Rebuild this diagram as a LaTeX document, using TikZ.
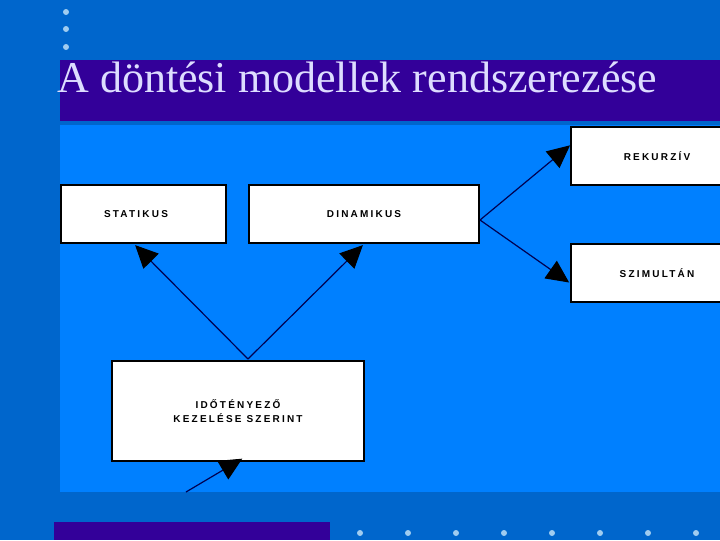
\documentclass[tikz,border=0pt]{standalone}
\usepackage{fontspec}
\setmainfont{Liberation Serif}
\newfontfamily\boxfont[LetterSpace=22]{Liberation Sans Bold}
\usetikzlibrary{arrows.meta}
\definecolor{bgblue}{HTML}{0066CC}
\definecolor{panelblue}{HTML}{0080FF}
\definecolor{titlebar}{HTML}{330099}
\definecolor{titletext}{HTML}{DDDDFF}
\definecolor{dotcol}{HTML}{A0CCF0}
\definecolor{linecol}{HTML}{000050}
\tikzset{
  box/.style={draw=black, line width=1.5pt, fill=white, inner sep=0pt, font=\boxfont\fontsize{7.5}{10}\selectfont, align=center},
  conn/.style={draw=linecol, line width=0.9pt, -{Triangle[length=17pt,width=16pt,fill=black,color=black]}, shorten >=-2pt},
  dot/.style={circle, fill=dotcol, inner sep=0pt, minimum size=4.5pt}
}
\begin{document}
\begin{tikzpicture}[x=0.75pt,y=-0.75pt]
\fill[bgblue] (0,0) rectangle (720,540);
\useasboundingbox (0,0) rectangle (720,540);
% top dots
\node[dot] (d1) at (66,12) {};
\node[dot] (d2) at (66,29) {};
\node[dot] (d3) at (66,47) {};
% title bar
\fill[titlebar] (60,60) rectangle (720,121);
\node[anchor=base west, inner sep=0pt, text=titletext, font=\fontsize{33}{38}\selectfont] (title) at (57,92) {A döntési modellek rendszerezése};
% panel
\fill[panelblue] (60,125) rectangle (720,492);
% bottom bar
\fill[titlebar] (54,522) rectangle (330,540);
\foreach \i in {0,...,7} {\node[dot] (b\i) at (360+48*\i,533) {};}
% boxes
\node[box, minimum width=165*0.75pt, minimum height=58*0.75pt, anchor=north west] (stat) at (60,184) {STATIKUS\hspace*{1.5em}};
\node[box, minimum width=230*0.75pt, minimum height=58*0.75pt, anchor=north west] (din) at (248,184) {DINAMIKUS};
\node[box, minimum width=152*0.75pt, minimum height=58*0.75pt, anchor=north west] (rek) at (570,126) {\hspace*{2em}REKURZÍV};
\node[box, minimum width=152*0.75pt, minimum height=58*0.75pt, anchor=north west] (szim) at (570,243) {\hspace*{2em}SZIMULTÁN};
\node[box, minimum width=252*0.75pt, minimum height=100*0.75pt, anchor=north west] (ido) at (111,360) {IDŐTÉNYEZŐ\\KEZELÉSE SZERINT};
% connectors
\coordinate (src) at (248,359);
\coordinate (stattip) at (137,247);
\coordinate (dintip) at (361,247);
\coordinate (dsrc) at (480,220);
\coordinate (rektip) at (568,147);
\coordinate (szimtip) at (567,281);
\coordinate (low) at (186,492);
\coordinate (idotip) at (240,460);
\draw[conn] (src) -- (stattip);
\draw[conn] (src) -- (dintip);
\draw[conn] (dsrc) -- (rektip);
\draw[conn] (dsrc) -- (szimtip);
\draw[conn] (low) -- (idotip);
\end{tikzpicture}
\end{document}
